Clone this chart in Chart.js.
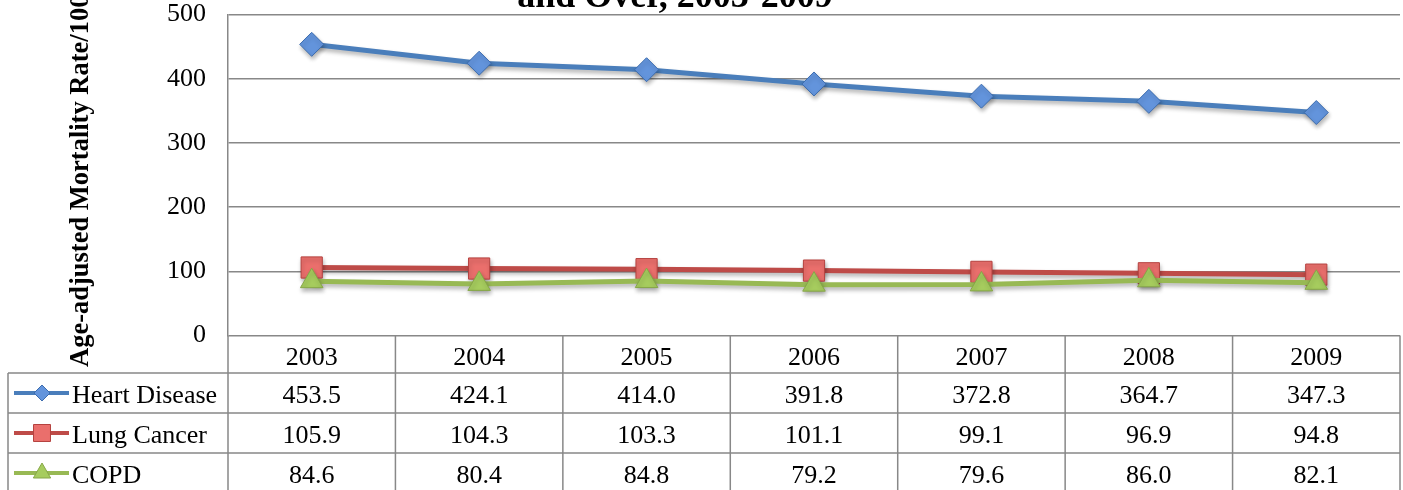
<!DOCTYPE html>
<html>
<head>
<meta charset="utf-8">
<script src="https://cdn.jsdelivr.net/npm/chart.js@4.4.0/dist/chart.umd.min.js"></script>
<style>
  body { margin: 0; background: #fff; }
  #wrap { width: 1403px; height: 490px; }
</style>
</head>
<body>
<div id="wrap"><canvas id="chart" width="1403" height="490"></canvas></div>
<script>
// values
const years = ['2003', '2004', '2005', '2006', '2007', '2008', '2009'];
const heartDisease = [453.5, 424.1, 414.0, 391.8, 372.8, 364.7, 347.3];
const lungCancer = [105.9, 104.3, 103.3, 101.1, 99.1, 96.9, 94.8];
const copd = [84.6, 80.4, 84.8, 79.2, 79.6, 86.0, 82.1];
const yTicks = [0, 100, 200, 300, 400, 500];

const titleText = 'and Over, 2003-2009';
const yTitleText = 'Age-adjusted Mortality Rate/100,000';

const serif = "'Liberation Serif', 'Times New Roman', serif";
const gridColor = '#888888';

// line + marker colours (Excel 2007 default palette)
const series = [
  { label: 'Heart Disease', data: heartDisease, line: '#4a7ebb', fill: '#6394dc', edge: '#3c6cae', style: 'rectRot', r: 12, legendR: 8, order: 2 },
  { label: 'Lung Cancer', data: lungCancer, line: '#be4b48', fill: '#ea6f6c', edge: '#b5423f', style: 'rect', r: 15, legendR: 12, order: 1 },
  { label: 'COPD', data: copd, line: '#98b954', fill: '#a6cc5e', edge: '#86a747', style: 'triangle', r: 13, legendR: 10, order: 0 }
];

// soft drop shadow under lines and markers
const shadowPlugin = {
  id: 'shadow',
  beforeDatasetDraw(chart) {
    const ctx = chart.ctx;
    ctx.save();
    ctx.shadowColor = 'rgba(0,0,0,0.3)';
    ctx.shadowBlur = 4;
    ctx.shadowOffsetX = 1;
    ctx.shadowOffsetY = 3;
  },
  afterDatasetDraw(chart) {
    chart.ctx.restore();
  }
};

// title (clipped at the top), rotated y title and the data table
const extrasPlugin = {
  id: 'extras',
  afterDraw(chart) {
    const ctx = chart.ctx;
    const area = chart.chartArea;
    const xs = chart.scales.x;
    const n = years.length;
    const colW = (xs.right - xs.left) / n;

    ctx.save();
    ctx.fillStyle = '#000';
    ctx.font = 'bold 36px ' + serif;
    ctx.textAlign = 'center';
    ctx.textBaseline = 'alphabetic';
    ctx.fillText(titleText, 675, 7);

    ctx.save();
    ctx.translate(88, 367);
    ctx.rotate(-Math.PI / 2);
    ctx.font = 'bold 26.5px ' + serif;
    ctx.textAlign = 'left';
    ctx.fillText(yTitleText, 0, 0);
    ctx.restore();

    // table grid
    const top = area.bottom;
    const rowTop = 373;
    const rowH = 40;
    const tableLeft = 8;
    const bottom = chart.height + 5;
    ctx.strokeStyle = gridColor;
    ctx.lineWidth = 1.5;
    ctx.beginPath();
    for (let i = 0; i < series.length; i++) {
      const y = rowTop + i * rowH;
      ctx.moveTo(tableLeft, y);
      ctx.lineTo(xs.right, y);
    }
    for (let i = 0; i <= n; i++) {
      const x = xs.left + i * colW;
      ctx.moveTo(x, top);
      ctx.lineTo(x, bottom);
    }
    ctx.moveTo(tableLeft, rowTop);
    ctx.lineTo(tableLeft, bottom);
    ctx.stroke();

    // values and legend keys
    ctx.font = '26px ' + serif;
    ctx.textBaseline = 'alphabetic';
    series.forEach((s, i) => {
      const base = rowTop + i * rowH + 30;
      const mid = rowTop + i * rowH + 20;
      ctx.textAlign = 'center';
      ctx.fillStyle = '#000';
      s.data.forEach((v, j) => {
        ctx.fillText(v.toFixed(1), xs.getPixelForValue(j), base);
      });

      ctx.strokeStyle = s.line;
      ctx.lineWidth = 4;
      ctx.beginPath();
      ctx.moveTo(14, mid);
      ctx.lineTo(69, mid);
      ctx.stroke();
      ctx.fillStyle = s.fill;
      ctx.strokeStyle = s.edge;
      ctx.lineWidth = 1;
      Chart.helpers.drawPoint(ctx, { pointStyle: s.style, radius: s.legendR, rotation: 0, borderWidth: 1 }, 42, mid);

      ctx.fillStyle = '#000';
      ctx.textAlign = 'left';
      ctx.fillText(s.label, 72, base);
    });
    ctx.restore();
  }
};

new Chart(document.getElementById('chart'), {
  type: 'line',
  data: {
    labels: years,
    datasets: series.map(s => ({
      label: s.label,
      data: s.data,
      order: s.order,
      borderColor: s.line,
      borderWidth: 5,
      backgroundColor: s.fill,
      pointBackgroundColor: s.fill,
      pointBorderColor: s.edge,
      pointBorderWidth: 1,
      pointStyle: s.style,
      pointRadius: s.r,
      tension: 0,
      clip: false
    }))
  },
  options: {
    responsive: false,
    animation: false,
    layout: { autoPadding: false, padding: { left: 0, right: 3, top: 14.5, bottom: 117 } },
    scales: {
      x: {
        offset: true,
        grid: { display: false },
        border: { display: false },
        ticks: { color: '#000', font: { family: serif, size: 26, lineHeight: 1.2 }, padding: -1, maxRotation: 0 },
        afterFit(scale) {
          scale.height = 37.5;
          scale.paddingLeft = 0;
          scale.paddingRight = 0;
        }
      },
      y: {
        min: 0,
        max: 500,
        afterBuildTicks(scale) { scale.ticks = yTicks.map(v => ({ value: v })); },
        grid: { color: gridColor, lineWidth: 1.5, drawTicks: false },
        border: { color: gridColor, width: 1.5 },
        ticks: { color: '#000', font: { family: serif, size: 26, lineHeight: 1 }, padding: 22 },
        afterFit(scale) {
          scale.width = 228;
          scale.paddingTop = 0;
          scale.paddingBottom = 0;
        }
      }
    },
    plugins: {
      legend: { display: false },
      tooltip: { enabled: false },
      title: { display: false }
    }
  },
  plugins: [shadowPlugin, extrasPlugin]
});
</script>
</body>
</html>
